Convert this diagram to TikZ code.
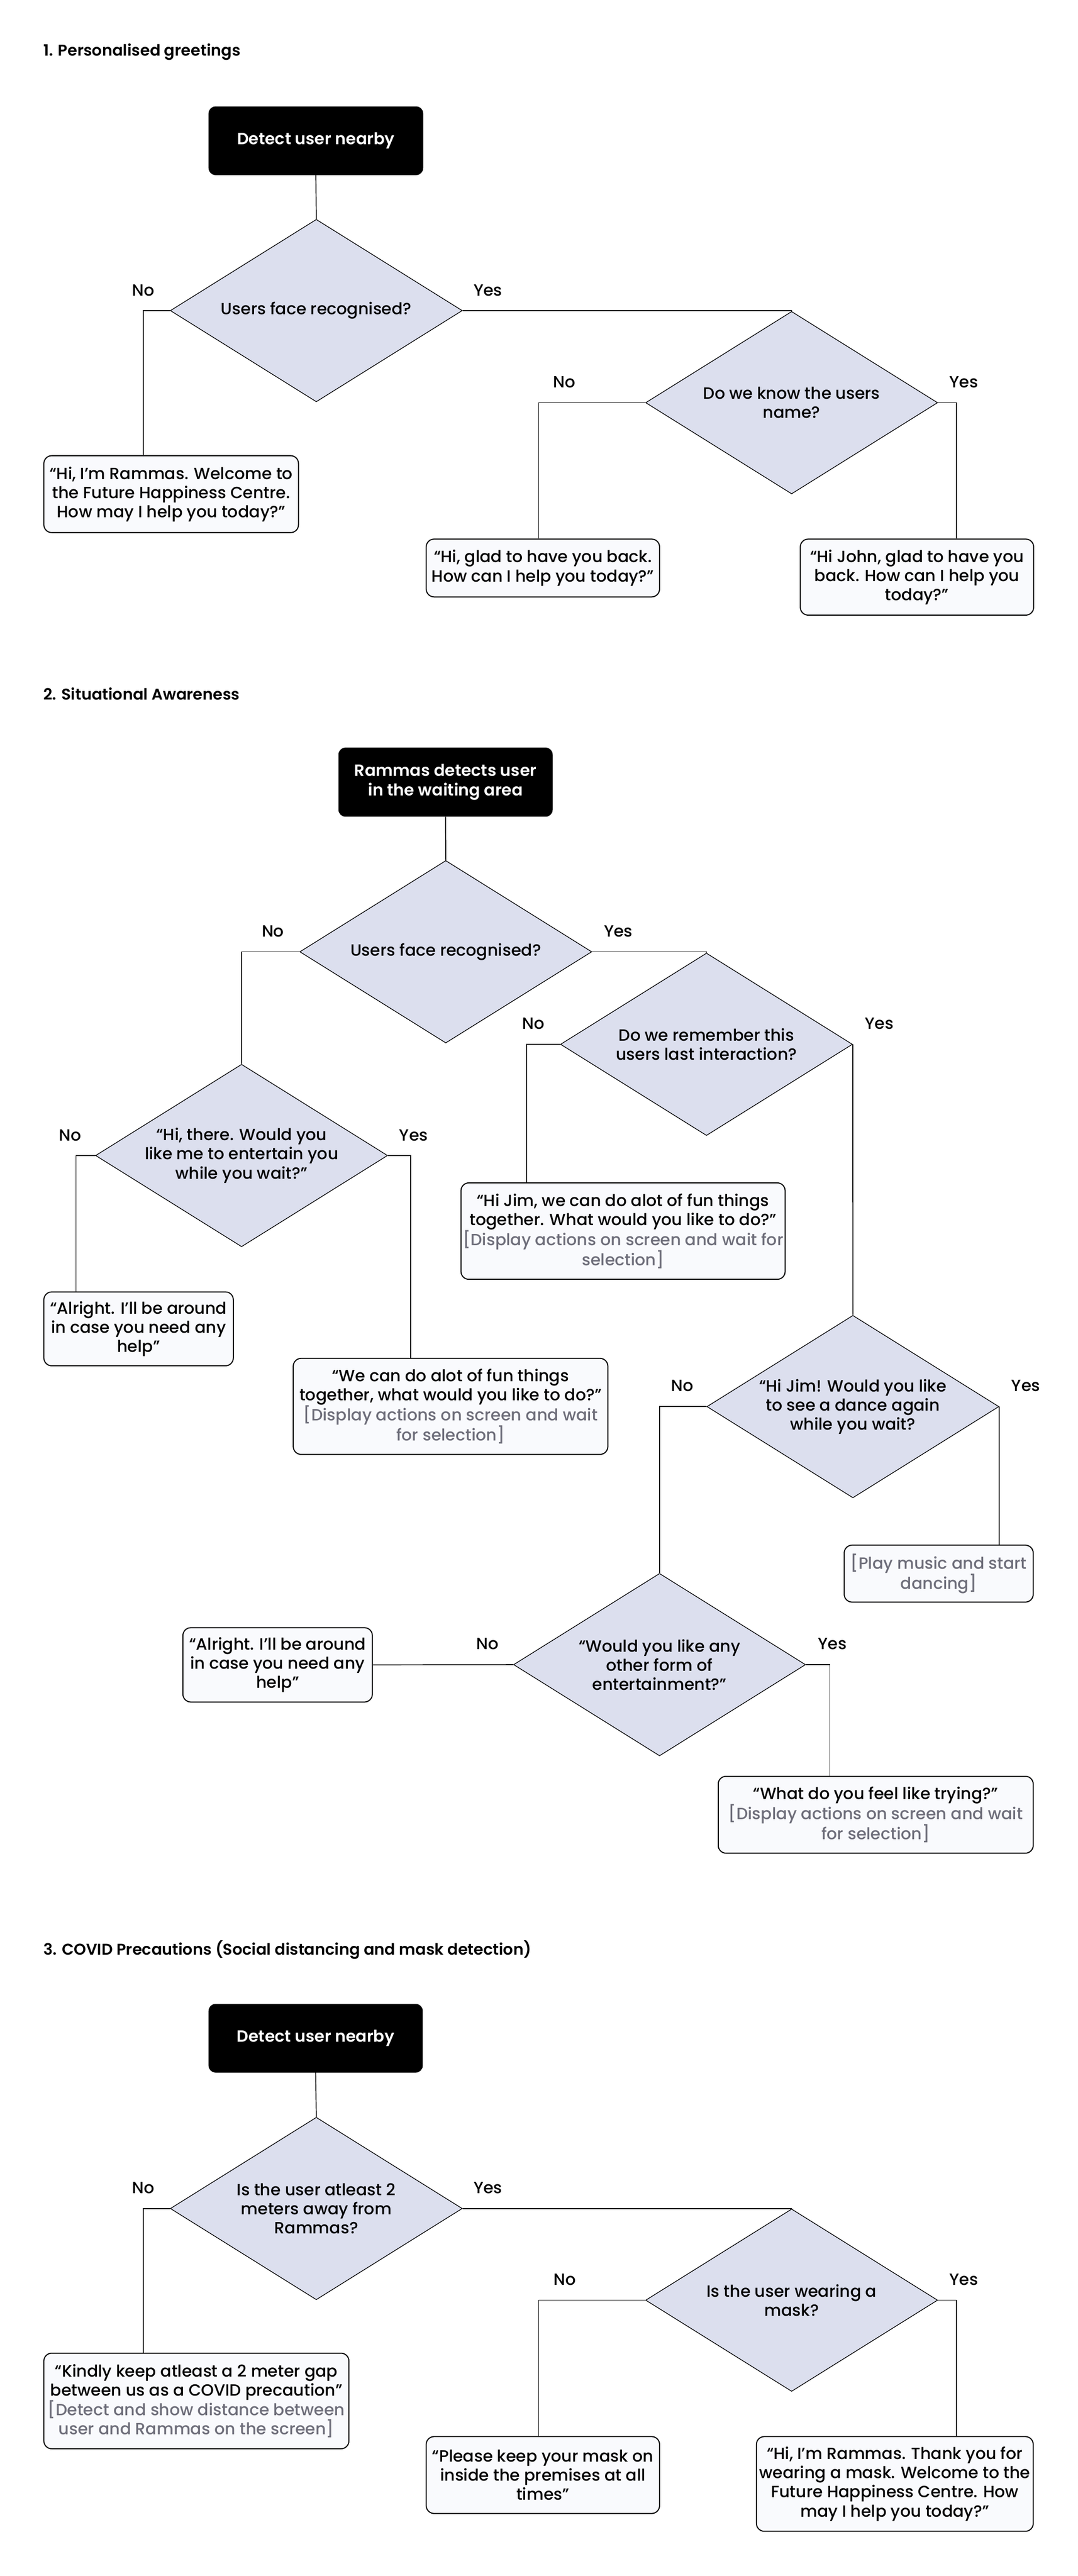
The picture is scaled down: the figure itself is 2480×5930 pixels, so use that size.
\documentclass[tikz,border=0pt]{standalone}
\usepackage{fontspec}
\setmainfont{Poppins Medium}[BoldFont={Poppins SemiBold}]
\usetikzlibrary{shapes.geometric,calc}
\definecolor{dfill}{HTML}{DCDFEE}
\definecolor{bfill}{HTML}{F9FAFD}
\definecolor{note}{HTML}{6E6E7A}
\tikzset{
  startbox/.style={fill=black, rounded corners=16pt, text=white, align=center, inner sep=0pt, font=\fontsize{37.5}{44}\selectfont\bfseries},
  msgbox/.style={draw=black, fill=bfill, rounded corners=18pt, line width=2.4pt, align=center, inner sep=0pt},
  decision/.style={diamond, aspect=1.6, draw=black, fill=dfill, line width=1.6pt, minimum width=672pt, minimum height=420pt, inner sep=0pt, align=center},
  conn/.style={draw=black, line width=2pt},
  lbl/.style={inner sep=0pt},
  heading/.style={anchor=west, inner sep=0pt, font=\fontsize{36}{44}\selectfont\bfseries},
}
\newcommand{\gr}[1]{\textcolor{note}{#1}}
\begin{document}
\begin{tikzpicture}[x=1pt,y=-1pt,font=\fontsize{37.5}{44}\selectfont]
\fill[white] (0,0) rectangle (2480,5930);
\useasboundingbox (0,0) rectangle (2480,5930);

% ---------------- Section 1 ----------------
\node[heading] (t1) at (100,120) {1. Personalised greetings};
\node[startbox, minimum width=494pt, minimum height=158pt] (s1start) at (727,324) {Detect user nearby};
\node[decision] (s1d1) at (728,715) {Users face recognised?};
\node[msgbox, minimum width=586pt, minimum height=177pt] (s1no) at (394,1137.5) {“Hi, I’m Rammas. Welcome to\\the Future Happiness Centre.\\How may I help you today?”};
\node[decision] (s1d2) at (1822,927) {Do we know the users\\name?};
\node[msgbox, minimum width=537pt, minimum height=133pt] (s1glad) at (1249.5,1307.5) {“Hi, glad to have you back.\\How can I help you today?”};
\node[msgbox, minimum width=537pt, minimum height=175pt] (s1john) at (2110.5,1328.5) {“Hi John, glad to have you\\back. How can I help you\\today?”};
\node[lbl] (s1l1) at (330,668) {No};
\node[lbl] (s1l2) at (1123,668) {Yes};
\node[lbl] (s1l3) at (1299,880) {No};
\node[lbl] (s1l4) at (2218,880) {Yes};
\coordinate (s1c1) at (330,715);
\coordinate (s1c2) at (1240,927);
\coordinate (s1c3) at (2201,927);
\draw[conn] (s1start.south) -- (s1d1.north);
\draw[conn] (s1d1.west) -- (s1c1) -- (s1c1 |- s1no.north);
\draw[conn] (s1d1.east) -| (s1d2.north);
\draw[conn] (s1d2.west) -- (s1c2) -- (s1c2 |- s1glad.north);
\draw[conn] (s1d2.east) -- (s1c3) -- (s1c3 |- s1john.north);

% ---------------- Section 2 ----------------
\node[heading] (t2) at (100,1597) {2. Situational Awareness};
\node[startbox, minimum width=493pt, minimum height=159pt] (s2start) at (1025.5,1800.5) {Rammas detects user\\in the waiting area};
\node[decision] (s2a) at (1026,2191) {Users face recognised?};
\node[decision] (s2b) at (556,2660) {“Hi, there. Would you\\like me to entertain you\\while you wait?”};
\node[decision] (s2c) at (1626,2404) {Do we remember this\\users last interaction?};
\node[decision] (s2d) at (1963,3238) {“Hi Jim! Would you like\\to see a dance again\\while you wait?};
\node[decision] (s2e) at (1518,3832) {“Would you like any\\other form of\\entertainment?”};
\node[msgbox, minimum width=746pt, minimum height=222pt] (s2jim) at (1434,2834) {“Hi Jim, we can do alot of fun things\\together. What would you like to do?”\\\gr{[Display actions on screen and wait for}\\\gr{selection]}};
\node[msgbox, minimum width=436pt, minimum height=170pt] (s2ok1) at (319,3059) {“Alright. I’ll be around\\in case you need any\\help”};
\node[msgbox, minimum width=724pt, minimum height=221pt] (s2wecan) at (1037,3237.5) {“We can do alot of fun things\\together, what would you like to do?”\\\gr{[Display actions on screen and wait}\\\gr{for selection]}};
\node[msgbox, minimum width=435pt, minimum height=131pt] (s2play) at (2160.5,3622.5) {\gr{[Play music and start}\\\gr{dancing]}};
\node[msgbox, minimum width=436pt, minimum height=171pt] (s2ok2) at (639,3832.5) {“Alright. I’ll be around\\in case you need any\\help”};
\node[msgbox, minimum width=725pt, minimum height=177pt] (s2what) at (2015.5,4177.5) {“What do you feel like trying?”\\\gr{[Display actions on screen and wait}\\\gr{for selection]}};
\node[lbl] (s2l1) at (628,2144) {No};
\node[lbl] (s2l2) at (1423,2144) {Yes};
\node[lbl] (s2l3) at (161,2613) {No};
\node[lbl] (s2l4) at (952,2613) {Yes};
\node[lbl] (s2l5) at (1228,2356) {No};
\node[lbl] (s2l6) at (2024,2356) {Yes};
\node[lbl] (s2l7) at (1570,3190) {No};
\node[lbl] (s2l8) at (2361,3190) {Yes};
\node[lbl] (s2l9) at (1122,3784) {No};
\node[lbl] (s2l10) at (1916,3784) {Yes};
\coordinate (s2c1) at (175,2660);
\coordinate (s2c2) at (945,2660);
\coordinate (s2c3) at (1212,2404);
\coordinate (s2c4) at (1910,3832);
\draw[conn] (s2start.south) -- (s2a.north);
\draw[conn] (s2a.west) -| (s2b.north);
\draw[conn] (s2a.east) -| (s2c.north);
\draw[conn] (s2b.west) -- (s2c1) -- (s2c1 |- s2ok1.north);
\draw[conn] (s2b.east) -- (s2c2) -- (s2c2 |- s2wecan.north);
\draw[conn] (s2c.west) -- (s2c3) -- (s2c3 |- s2jim.north);
\draw[conn] (s2c.east) -- (s2d.north);
\draw[conn] (s2d.west) -| (s2e.north);
\draw[conn] (s2d.east) -- (s2d.east |- s2play.north);
\draw[conn] (s2e.west) -- (s2ok2.east);
\draw[conn] (s2e.east) -- (s2c4) -- (s2c4 |- s2what.north);

% ---------------- Section 3 ----------------
\node[heading] (t3) at (100,4489) {3. COVID Precautions (Social distancing and mask detection)};
\node[startbox, minimum width=493pt, minimum height=158pt] (s3start) at (726.5,4692) {Detect user nearby};
\node[decision] (s3f) at (728,5084) {Is the user atleast 2\\meters away from\\Rammas?};
\node[decision] (s3g) at (1822,5295) {Is the user wearing a\\mask?};
\node[msgbox, minimum width=702pt, minimum height=220pt] (s3kindly) at (452,5527) {“Kindly keep atleast a 2 meter gap\\between us as a COVID precaution”\\\gr{[Detect and show distance between}\\\gr{user and Rammas on the screen]}};
\node[msgbox, minimum width=537pt, minimum height=177pt] (s3please) at (1249.5,5697.5) {“Please keep your mask on\\inside the premises at all\\times”};
\node[msgbox, minimum width=637pt, minimum height=218pt] (s3hi) at (2059.5,5718) {“Hi, I’m Rammas. Thank you for\\wearing a mask. Welcome to the\\Future Happiness Centre. How\\may I help you today?”};
\node[lbl] (s3l1) at (330,5036) {No};
\node[lbl] (s3l2) at (1123,5036) {Yes};
\node[lbl] (s3l3) at (1300,5248) {No};
\node[lbl] (s3l4) at (2218,5248) {Yes};
\coordinate (s3c1) at (330,5084);
\coordinate (s3c2) at (1240,5295);
\coordinate (s3c3) at (2201,5295);
\draw[conn] (s3start.south) -- (s3f.north);
\draw[conn] (s3f.west) -- (s3c1) -- (s3c1 |- s3kindly.north);
\draw[conn] (s3f.east) -| (s3g.north);
\draw[conn] (s3g.west) -- (s3c2) -- (s3c2 |- s3please.north);
\draw[conn] (s3g.east) -- (s3c3) -- (s3c3 |- s3hi.north);
\end{tikzpicture}
\end{document}
